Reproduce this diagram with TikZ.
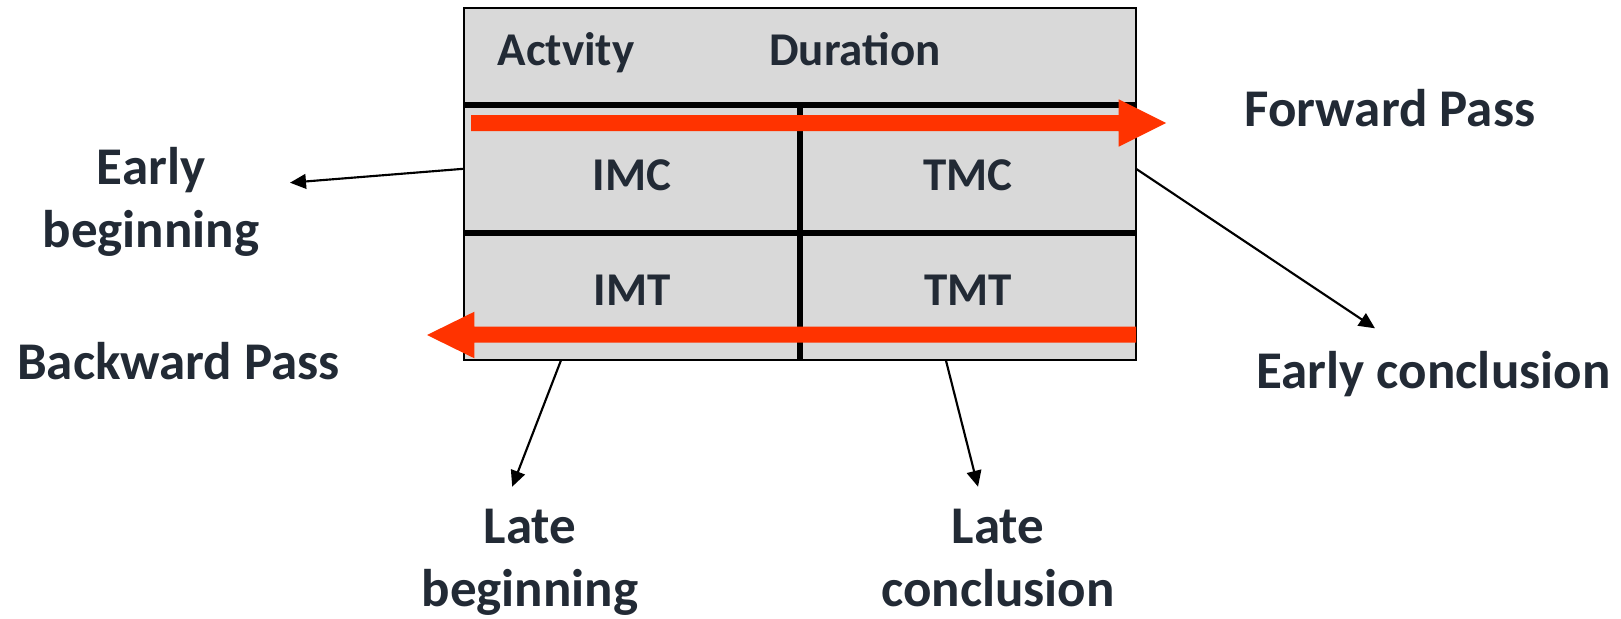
\documentclass[tikz,border=0pt]{standalone}
\usepackage{fontspec}
\setmainfont{Carlito}
\usetikzlibrary{arrows.meta,calc}
\definecolor{ink}{HTML}{222A35}
\definecolor{passred}{HTML}{FF3300}
\definecolor{cellgray}{HTML}{D9D9D9}
\begin{document}
\begin{tikzpicture}[x=0.75pt,y=-0.75pt,
  cellbox/.style={draw=black!70, line width=0.8pt, fill=cellgray, inner sep=0pt, outer sep=0pt},
  celltext/.style={text=ink, inner sep=0pt, anchor=base, font=\fontsize{35.25pt}{42pt}\selectfont\bfseries},
  lbl/.style={text=ink, inner sep=0pt, anchor=base, align=center, font=\fontsize{39.75pt}{47.2pt}\selectfont\bfseries},
  rule/.style={line width=4.5pt, black},
  conn/.style={line width=1.6pt, black, -{Triangle[length=12pt,width=11pt]}},
  passarrow/.style={fill=passred, draw=none}]
\useasboundingbox (0,0) rectangle (1621,618);

% table cells
\node[cellbox, minimum width=504pt, minimum height=72.75pt] (header) at (800,56.5) {};
\node[cellbox, minimum width=252pt, minimum height=95.625pt] (imc) at (632,168.75) {};
\node[cellbox, minimum width=252pt, minimum height=95.625pt] (tmc) at (968,168.75) {};
\node[cellbox, minimum width=252pt, minimum height=95.625pt] (imt) at (632,296.25) {};
\node[cellbox, minimum width=252pt, minimum height=95.625pt] (tmt) at (968,296.25) {};
\draw[black, line width=1pt] (header.north west) rectangle (tmt.south east);

% heavy rules between rows and columns
\draw[rule] (header.south west) -- (header.south east);
\draw[rule] (imc.south west) -- (tmc.south east);
\draw[rule, line width=5pt] (imc.north east) -- (imt.south east);

% forward and backward pass arrows
\fill[passarrow] (471,115) -- (1118.6,115) -- (1118.6,99.3) -- (1166,123)
  -- (1118.6,146.7) -- (1118.6,131) -- (471,131) -- cycle;
\fill[passarrow] (1136,326.7) -- (474.4,326.7) -- (474.4,311.7) -- (427,335)
  -- (474.4,358.3) -- (474.4,342.7) -- (1136,342.7) -- cycle;

% cell texts
\node[celltext] (tact) at (566,65) {Actvity};
\node[celltext] (tdur) at (855,65) {Duration};
\node[celltext] (timc) at (632,190.7) {IMC};
\node[celltext] (ttmc) at (968,190.7) {TMC};
\node[celltext] (timt) at (632,305) {IMT};
\node[celltext] (ttmt) at (968,305) {TMT};

% outside labels (base = baseline of the last line)
\node[lbl] (fwd) at (1390,126.7) {Forward Pass};
\node[lbl] (bwd) at (178.5,379.3) {Backward Pass};
\node[lbl] (eb) at (151,247) {Early\\beginning};
\node[lbl] (ec) at (1433.5,388) {Early conclusion};
\node[lbl] (lb) at (530,606.7) {Late\\beginning};
\node[lbl] (lc) at (998,606.7) {Late\\conclusion};

% connector tips
\coordinate (ebtip) at (290,182.7);
\coordinate (ectip) at (1375,328.3);
\coordinate (lbtip) at (512.2,486.7);
\coordinate (lctip) at (978,486.7);

\draw[conn] (imc.west) -- (ebtip);
\draw[conn] (tmc.east) -- (ectip);
\draw[conn] ($(imt.south west)!0.289!(imt.south east)$) -- (lbtip);
\draw[conn] ($(tmt.south west)!0.434!(tmt.south east)$) -- (lctip);
\end{tikzpicture}
\end{document}
